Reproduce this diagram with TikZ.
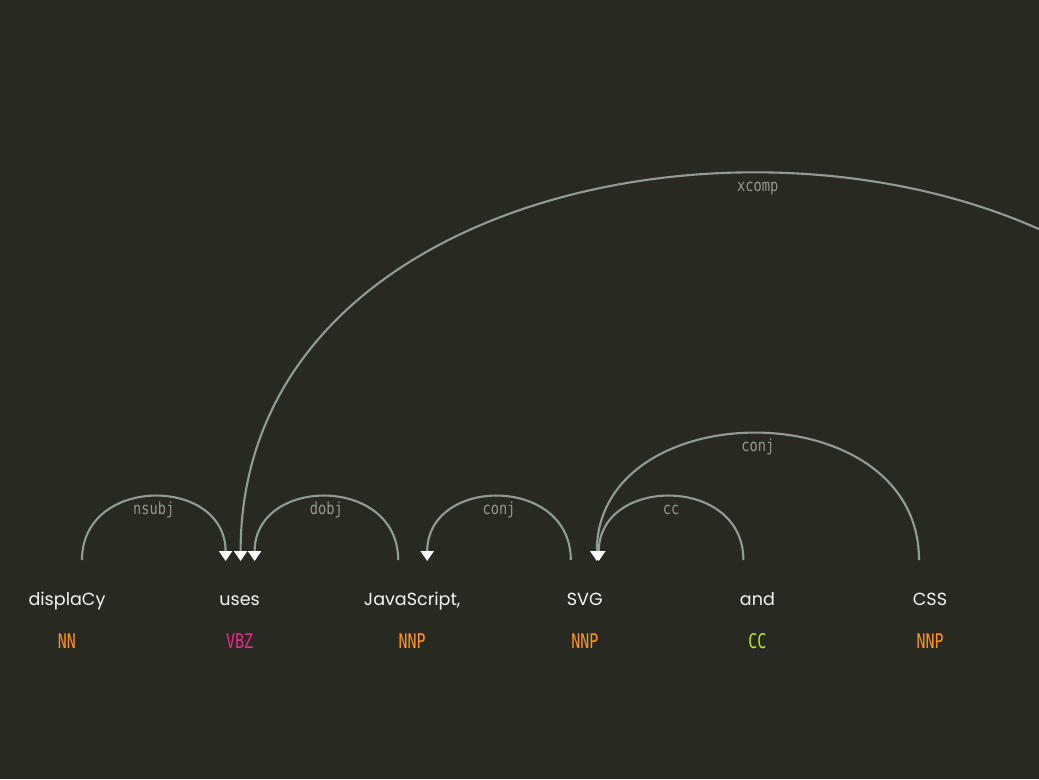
\documentclass[tikz,border=0pt]{standalone}
\usepackage{fontspec}
\setmainfont{Poppins}
\newfontfamily\tagfont{DejaVu Sans Mono}[FakeStretch=0.74]
\newfontfamily\lblfont{DejaVu Sans Mono}[FakeStretch=0.82]
\usetikzlibrary{arrows.meta,calc}

\definecolor{bg}{RGB}{41,41,35}
\definecolor{arccol}{RGB}{144,156,148}
\definecolor{lblcol}{RGB}{150,152,146}
\definecolor{wordcol}{RGB}{246,246,244}
\definecolor{nncol}{RGB}{255,150,22}
\definecolor{vbcol}{RGB}{236,40,140}
\definecolor{cccol}{RGB}{190,236,20}

\begin{document}
\begin{tikzpicture}[x=0.02cm,y=-0.02cm,
    word/.style = {text=wordcol,anchor=base,inner sep=0pt,font=\fontsize{10}{12}\selectfont},
    tag/.style = {anchor=base,inner sep=0pt,font=\tagfont\fontsize{11.5}{13}\selectfont},
    arc/.style = {draw=arccol,line width=1.2pt,-{Triangle[width=0.26cm,length=0.2cm,color=white,fill=white]}},
    lbl/.style = {text=lblcol,anchor=base,inner sep=0pt,yshift=-0.36cm,font=\lblfont\fontsize{9.5}{11}\selectfont}]
\useasboundingbox (0,0) rectangle (1039,779);
\clip (0,0) rectangle (1039,779);
\fill[bg] (0,0) rectangle (1039,779);
\foreach \w/\t/\c [count=\j from 0] in {displaCy/NN/nncol,uses/VBZ/vbcol,{JavaScript,}/NNP/nncol,SVG/NNP/nncol,and/CC/cccol,CSS/NNP/nncol} {
    \node[word] (w\j) at (67+172.6*\j, 605) {\w};
    \node[tag,text=\c] (t\j) at (67+172.6*\j, 648) {\t};
}
\coordinate (xend) at (1275,560);
\draw[arc] ($(w0.base)+(15,-45)$) .. controls +(0,-85) and +(0,-85) .. ($(w1.base)+(-14,-44)$) node[lbl,pos=.5] {nsubj};
\draw[arc] (xend) .. controls +(0,-516) and +(0,-516) .. ($(w1.base)+(1,-44)$) node[lbl,pos=.5] {xcomp};
\draw[arc] ($(w2.base)+(-14,-45)$) .. controls +(0,-85) and +(0,-85) .. ($(w1.base)+(15,-44)$) node[lbl,pos=.5] {dobj};
\draw[arc] ($(w3.base)+(-14,-45)$) .. controls +(0,-85) and +(0,-85) .. ($(w2.base)+(15,-44)$) node[lbl,pos=.5] {conj};
\draw[arc] ($(w4.base)+(-14,-45)$) .. controls +(0,-85) and +(0,-85) .. ($(w3.base)+(14,-44)$) node[lbl,pos=.5] {cc};
\draw[arc] ($(w5.base)+(-11,-45)$) .. controls +(0,-169) and +(0,-169) .. ($(w3.base)+(12,-44)$) node[lbl,pos=.5] {conj};
\end{tikzpicture}
\end{document}
